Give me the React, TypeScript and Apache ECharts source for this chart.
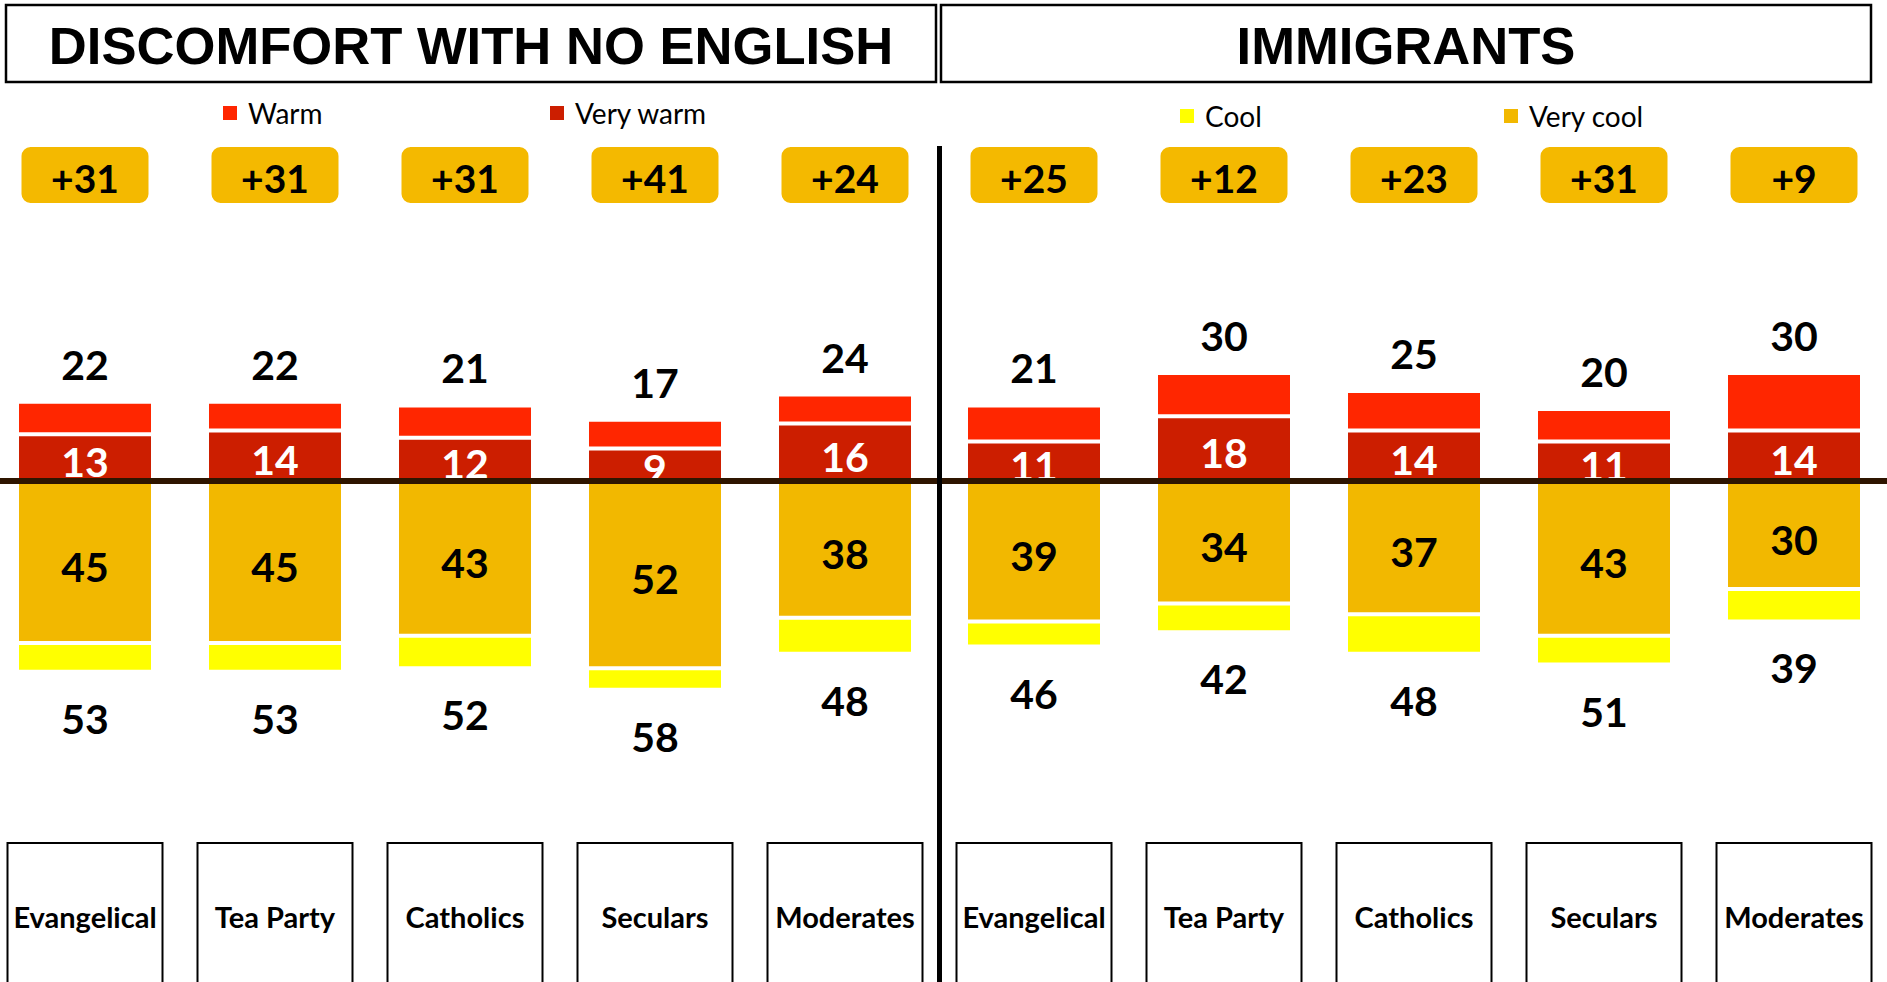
import React, { useEffect, useRef } from "react";
import * as echarts from "echarts";

// ---- Data ----
const categories = ["Evangelical", "Tea Party", "Catholics", "Seculars", "Moderates"];

// Panel 1: Discomfort with no English
const englishVeryWarm = [13, 14, 12, 9, 16];
const englishWarmTotal = [22, 22, 21, 17, 24];
const englishVeryCool = [45, 45, 43, 52, 38];
const englishCoolTotal = [53, 53, 52, 58, 48];

// Panel 2: Immigrants
const immigVeryWarm = [11, 18, 14, 11, 14];
const immigWarmTotal = [21, 30, 25, 20, 30];
const immigVeryCool = [39, 34, 37, 43, 30];
const immigCoolTotal = [46, 42, 48, 51, 39];

const panelTitles = ["DISCOMFORT WITH NO ENGLISH", "IMMIGRANTS"];

const COLORS = {
  warm: "#ff2600",
  veryWarm: "#cc1e00",
  veryCool: "#f2b800",
  cool: "#ffff00",
  zero: "#2e1500",
  badge: "#f4b900",
};

const NUM_FONT = "Lato";

function panelSeries(
  axisX: number,
  axisY: number,
  veryWarm: number[],
  warmTotal: number[],
  veryCool: number[],
  coolTotal: number[],
  stack: string
) {
  const numLabel = {
    fontFamily: NUM_FONT,
    fontWeight: "bold",
    fontSize: 41,
  };
  const common = {
    type: "bar",
    xAxisIndex: axisX,
    yAxisIndex: axisY,
    stack,
    barWidth: 136,
    itemStyle: { borderColor: "#ffffff", borderWidth: 2 },
  };
  return [
    {
      ...common,
      name: "Very warm",
      data: veryWarm,
      itemStyle: { ...common.itemStyle, color: COLORS.veryWarm },
      label: {
        show: true,
        position: "inside",
        offset: [0, 4],
        color: "#ffffff",
        ...numLabel,
      },
      markLine: {
        silent: true,
        symbol: ["none", "none"],
        z: 10,
        label: { show: false },
        lineStyle: { color: COLORS.zero, width: 6, type: "solid" },
        data: [{ yAxis: 0 }],
      },
    },
    {
      ...common,
      name: "Warm",
      data: warmTotal.map((t, i) => t - veryWarm[i]),
      itemStyle: { ...common.itemStyle, color: COLORS.warm },
      label: {
        show: true,
        position: "top",
        distance: 17,
        color: "#000000",
        formatter: (p: any) => String(warmTotal[p.dataIndex]),
        ...numLabel,
      },
    },
    {
      ...common,
      name: "Very cool",
      data: veryCool.map((v) => -v),
      itemStyle: { ...common.itemStyle, color: COLORS.veryCool },
      label: {
        show: true,
        position: "inside",
        offset: [0, 4],
        color: "#000000",
        formatter: (p: any) => String(veryCool[p.dataIndex]),
        ...numLabel,
      },
    },
    {
      ...common,
      name: "Cool",
      data: coolTotal.map((t, i) => -(t - veryCool[i])),
      itemStyle: { ...common.itemStyle, color: COLORS.cool },
      label: {
        show: true,
        position: "bottom",
        distance: 26,
        color: "#000000",
        formatter: (p: any) => String(coolTotal[p.dataIndex]),
        ...numLabel,
      },
    },
  ];
}

function bottomAxis(gridIndex: number) {
  return {
    type: "category",
    gridIndex,
    position: "bottom",
    data: categories,
    axisLine: { show: false },
    axisTick: { show: false },
    axisLabel: {
      interval: 0,
      margin: 2,
      width: 155,
      height: 146,
      lineHeight: 146,
      padding: [0, 0, 4, 0],
      align: "center",
      borderColor: "#000000",
      borderWidth: 2,
      color: "#000000",
      fontFamily: NUM_FONT,
      fontWeight: "bold",
      fontSize: 29,
    },
  };
}

function topAxis(gridIndex: number, warmTotal: number[], coolTotal: number[]) {
  return {
    type: "category",
    gridIndex,
    position: "top",
    data: coolTotal.map((c, i) => "+" + (c - warmTotal[i])),
    axisLine: { show: false },
    axisTick: { show: false },
    axisLabel: {
      interval: 0,
      inside: true,
      margin: 26,
      width: 127,
      height: 51,
      lineHeight: 51,
      padding: [5, 0, 0, 0],
      align: "center",
      backgroundColor: COLORS.badge,
      borderRadius: 9,
      color: "#000000",
      fontFamily: NUM_FONT,
      fontWeight: "bold",
      fontSize: 39,
    },
  };
}

export default function App() {
  const ref = useRef<HTMLDivElement>(null);

  useEffect(() => {
    if (!ref.current) return;
    const chart = echarts.init(ref.current, null, { renderer: "svg" });

    const legendText = {
      fontFamily: NUM_FONT,
      fontSize: 28,
      color: "#000000",
      padding: [0, 0, 0, 5],
    };
    const legendBase = {
      icon: "rect",
      itemWidth: 16,
      itemHeight: 16,
      selectedMode: false,
      textStyle: legendText,
    };

    const option: any = {
      animation: false,
      backgroundColor: "#ffffff",
      legend: [
        { ...legendBase, data: ["Warm"], left: 216, top: 94 },
        { ...legendBase, data: ["Very warm"], left: 543, top: 94 },
        { ...legendBase, data: ["Cool"], left: 1173, top: 97 },
        { ...legendBase, data: ["Very cool"], left: 1497, top: 97 },
      ],
      grid: [
        { left: -10, width: 950, top: 121, height: 720, outerBoundsMode: "none", containLabel: false },
        { left: 939, width: 950, top: 121, height: 720, outerBoundsMode: "none", containLabel: false },
      ],
      xAxis: [
        bottomAxis(0),
        topAxis(0, englishWarmTotal, englishCoolTotal),
        bottomAxis(1),
        topAxis(1, immigWarmTotal, immigCoolTotal),
      ],
      yAxis: [
        { type: "value", gridIndex: 0, min: -100, max: 100, show: false },
        { type: "value", gridIndex: 1, min: -100, max: 100, show: false },
      ],
      series: [
        ...panelSeries(0, 0, englishVeryWarm, englishWarmTotal, englishVeryCool, englishCoolTotal, "left"),
        ...panelSeries(2, 1, immigVeryWarm, immigWarmTotal, immigVeryCool, immigCoolTotal, "right"),
      ],
      graphic: [
        {
          type: "rect",
          z: 100,
          shape: { x: 6, y: 5, width: 930, height: 77 },
          style: { fill: "none", stroke: "#000000", lineWidth: 2.5 },
        },
        {
          type: "rect",
          z: 100,
          shape: { x: 941, y: 5, width: 930, height: 77 },
          style: { fill: "none", stroke: "#000000", lineWidth: 2.5 },
        },
        {
          type: "text",
          z: 100,
          x: 471,
          y: 45,
          style: {
            text: panelTitles[0],
            fill: "#000000",
            fontFamily: "Liberation Sans",
            fontWeight: "bold",
            fontSize: 52.6,
            align: "center",
            verticalAlign: "middle",
          },
        },
        {
          type: "text",
          z: 100,
          x: 1406,
          y: 45,
          style: {
            text: panelTitles[1],
            fill: "#000000",
            fontFamily: "Liberation Sans",
            fontWeight: "bold",
            fontSize: 52.6,
            align: "center",
            verticalAlign: "middle",
          },
        },
        {
          type: "line",
          z: 100,
          shape: { x1: 939.5, y1: 146, x2: 939.5, y2: 982 },
          style: { stroke: "#000000", lineWidth: 5 },
        },
      ],
    };

    chart.setOption(option);
    return () => chart.dispose();
  }, []);

  return (
    <div
      ref={ref}
      style={{ position: "fixed", left: 0, top: 0, width: 1887, height: 982 }}
    />
  );
}
